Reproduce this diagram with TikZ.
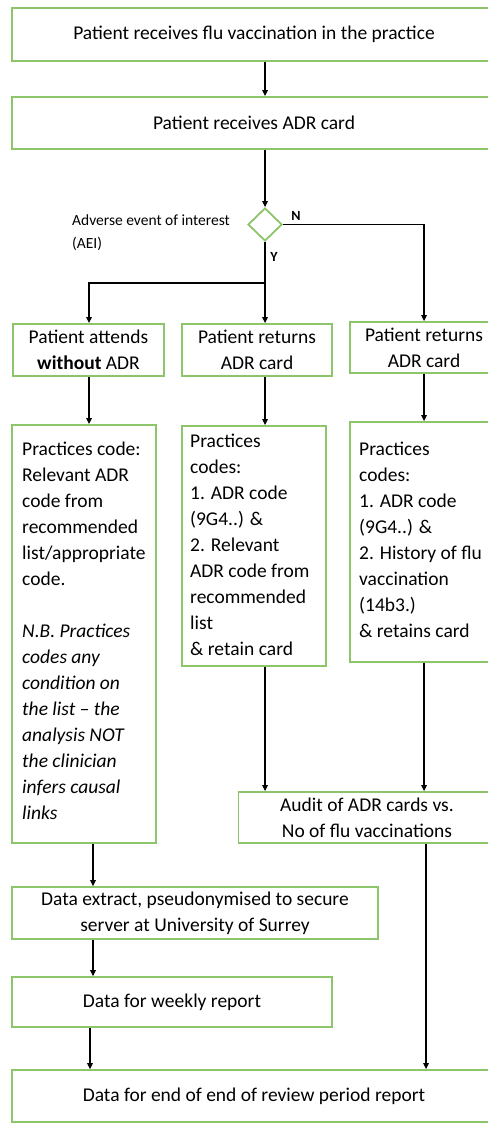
\documentclass[tikz,border=0pt]{standalone}
\usepackage{fontspec}
\setmainfont{Carlito}
\usetikzlibrary{arrows.meta,shapes.geometric,calc}
\definecolor{boxgreen}{RGB}{140,197,106}
\tikzset{
  box/.style={draw=boxgreen,line width=1.8pt,rectangle,inner sep=0pt,font=\fontsize{19.5}{26}\selectfont,align=center},
  txt/.style={inner sep=0pt,anchor=north west,align=left,font=\fontsize{19.5}{26}\selectfont},
  dec/.style={draw=boxgreen,line width=1.8pt,diamond,inner sep=0pt,minimum width=34pt,minimum height=33pt},
  arr/.style={draw=black,line width=1.3pt,-{Triangle[length=6pt,width=5.5pt]}},
  yn/.style={font=\fontsize{14}{16}\selectfont\bfseries,inner sep=0pt}
}
\begin{document}
\begin{tikzpicture}[x=1pt,y=1pt]
\useasboundingbox (0,0) rectangle (487,-1123);
% column coordinates
\coordinate (xc) at (265,0);
\coordinate (xr) at (424,0);
\coordinate (xa) at (89,0);
\coordinate (xd) at (93,0);
\coordinate (xw) at (90,0);
\coordinate (xf) at (426,0);
% nodes
\node[box,minimum width=484pt,minimum height=53pt] (b1) at (254,-34.5) {Patient receives flu vaccination in the practice};
\node[box,minimum width=484pt,minimum height=52pt] (b2) at (254,-123) {Patient receives ADR card};
\node[dec] (dia) at (265,-224.5) {};
\node[inner sep=0pt,anchor=north west,align=left,font=\fontsize{15.5}{23}\selectfont] (aei) at (72,-215) {Adverse event of interest\\(AEI)};
\node[yn] (nlab) at (296,-216) {N};
\node[yn] (ylab) at (274,-257) {Y};
\coordinate (ysplit) at (265,-283);
\node[box,minimum width=151pt,minimum height=52pt] (a) at (88.5,-350) {Patient attends\\\textbf{without} ADR};
\node[box,minimum width=150pt,minimum height=52pt] (b) at (257,-350) {Patient returns\\ADR card};
\node[box,minimum width=148pt,minimum height=51pt] (c) at (424,-347.5) {Patient returns\\ADR card};
\node[box,minimum width=144pt,minimum height=418pt] (a2) at (84,-634) {};
\node[txt] (a2t) at (22,-442) {Practices code:\\Relevant ADR\\code from\\recommended\\list/appropriate\\code.\\[26pt]\itshape N.B. Practices\\\itshape codes any\\\itshape condition on\\\itshape the list -- the\\\itshape analysis NOT\\\itshape the clinician\\\itshape infers causal\\\itshape links};
\node[box,minimum width=144pt,minimum height=240pt] (b2b) at (254,-546) {};
\node[txt] (b2t) at (190,-434) {Practices\\codes:\\1. ADR code\\(9G4..) \&\\2. Relevant\\ADR code from\\recommended\\list\\\& retain card};
\node[box,minimum width=146pt,minimum height=240pt] (c2) at (423,-542) {};
\node[txt] (c2t) at (359,-442) {Practices\\codes:\\1. ADR code\\(9G4..) \&\\2. History of flu\\vaccination\\(14b3.)\\\& retains card};
\node[box,minimum width=257pt,minimum height=51pt] (aud) at (367,-817.5) {Audit of ADR cards vs.\\No of flu vaccinations};
\node[box,minimum width=366pt,minimum height=52pt] (ext) at (195,-913) {Data extract, pseudonymised to secure\\server at University of Surrey};
\node[box,minimum width=320pt,minimum height=50pt] (wk) at (172,-1002) {Data for weekly report};
\node[box,minimum width=484pt,minimum height=52pt] (fin) at (254,-1096) {Data for end of end of review period report};
% connectors
\draw[arr] (b1.south -| xc) -- (b2.north -| xc);
\draw[arr] (b2.south -| xc) -- (dia.north);
\draw[arr] (dia.east) -- (xr |- dia.east) -- (c.north -| xr);
\draw[arr] (dia.south) -- (b.north -| xc);
\draw[arr] (ysplit) -- (xa |- ysplit) -- (a.north -| xa);
\draw[arr] (a.south -| xa) -- (a2.north -| xa);
\draw[arr] (b.south -| xc) -- (b2b.north -| xc);
\draw[arr] (c.south -| xr) -- (c2.north -| xr);
\draw[arr] (b2b.south -| xc) -- (aud.north -| xc);
\draw[arr] (c2.south -| xr) -- (aud.north -| xr);
\draw[arr] (a2.south -| xd) -- (ext.north -| xd);
\draw[arr] (ext.south -| xd) -- (wk.north -| xd);
\draw[arr] (wk.south -| xw) -- (fin.north -| xw);
\draw[arr] (aud.south -| xf) -- (fin.north -| xf);
\end{tikzpicture}
\end{document}
